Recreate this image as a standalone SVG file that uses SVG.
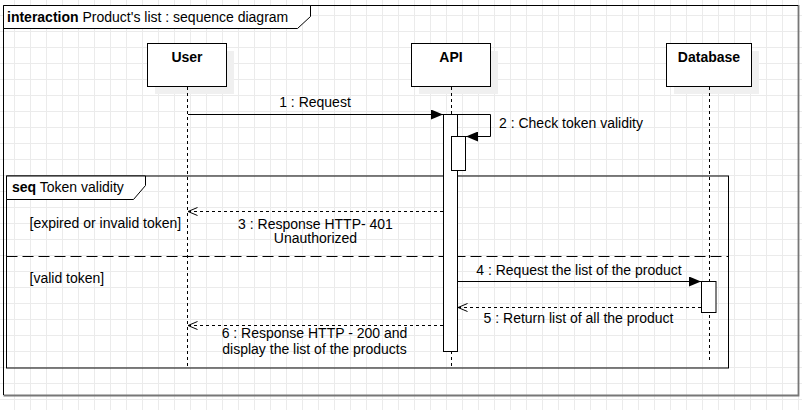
<svg xmlns="http://www.w3.org/2000/svg" width="802" height="410" viewBox="0 0 802 410">
<style>
text{font-family:"Liberation Sans",Arial,sans-serif;font-size:14px;fill:#000}
.b{font-weight:bold}
.m{text-anchor:middle}
.box{fill:#fff;stroke:#000;stroke-width:1}
.shadow{fill:#f0f0f0}
.life{stroke:#000;stroke-width:1;stroke-dasharray:3 3;fill:none}
.msg{stroke:#000;stroke-width:1;fill:none}
.ret{stroke:#000;stroke-width:1;stroke-dasharray:3 3;fill:none}
.act{fill:#fff;stroke:#000;stroke-width:1}
.frame{fill:none;stroke:#000;stroke-width:1}
.tab{fill:#fff;stroke:#000;stroke-width:1}
</style>
<defs>
<pattern id="grid" width="16" height="16" patternUnits="userSpaceOnUse" x="14" y="15">
<path d="M0.5,0 V16 M0,0.5 H16" stroke="#ebebeb" stroke-width="1" fill="none"/>
</pattern>
<marker id="fill" viewBox="0 0 12 10" refX="12" refY="5" markerWidth="12" markerHeight="10" markerUnits="userSpaceOnUse" orient="auto">
<path d="M0,0 L12,5 L0,10 Z" fill="#000"/>
</marker>
<marker id="open" viewBox="0 0 10 10" refX="9.5" refY="5" markerWidth="10" markerHeight="10" markerUnits="userSpaceOnUse" orient="auto">
<path d="M0,1 L9.5,5 L0,9" fill="none" stroke="#000" stroke-width="1"/>
</marker>
</defs>
<rect width="802" height="410" fill="#fff"/>
<rect width="802" height="410" fill="url(#grid)"/>

<g id="interaction-frame">
<path d="M798.5,5 V395.5 H3.5" fill="none" stroke="#777" stroke-width="1.8"/>
<path d="M3.5,395 V5.5 H798" class="frame"/>
<path d="M3.5,5.5 H310.5 V16.5 L297.5,28.5 H3.5 Z" class="tab"/>
<text x="7" y="21.5"><tspan class="b">interaction</tspan> Product's list : sequence diagram</text>
</g>

<g id="seq-frame">
<rect x="6.5" y="176" width="722" height="192" class="frame"/>
<path d="M6.5,176 H145.5 V185.5 L133.5,199.5 H6.5 Z" class="tab"/>
<text x="12" y="191.5"><tspan class="b">seq</tspan>  Token validity</text>
<path d="M6.5,256.5 H728.5" stroke="#000" stroke-width="1" stroke-dasharray="11 5" fill="none"/>
<text x="29.5" y="228">[expired or invalid token]</text>
<text x="29.5" y="283">[valid token]</text>
</g>

<g id="user">
<rect x="155" y="51" width="79" height="43" class="shadow"/>
<rect x="147.5" y="43.5" width="79" height="43" class="box"/>
<text x="187" y="62" class="b m">User</text>
<path d="M187.5,87 V367" class="life"/>
</g>

<g id="api">
<rect x="419" y="51" width="79" height="43" class="shadow"/>
<rect x="411.5" y="43.5" width="79" height="43" class="box"/>
<text x="451" y="62" class="b m">API</text>
<path d="M451.5,87 V367" class="life"/>
<rect x="443.5" y="114.5" width="14" height="237" class="act"/>
<rect x="451.5" y="136.5" width="14" height="34" class="act"/>
</g>

<g id="database">
<rect x="674" y="51" width="85" height="43" class="shadow"/>
<rect x="666.5" y="43.5" width="85" height="43" class="box"/>
<text x="709" y="62" class="b m">Database</text>
<path d="M709.5,87 V361" class="life"/>
<rect x="701.5" y="281.5" width="14.5" height="31" class="act"/>
</g>

<g id="connectors">
<path d="M188,114.5 H443" class="msg" marker-end="url(#fill)"/>
<text x="315" y="106.5" class="m">1 : Request</text>
<path d="M457.5,114.5 H490.5 V136.5 H466" class="msg" marker-end="url(#fill)"/>
<text x="499" y="127.5">2 : Check token validity</text>
<path d="M443,211.5 H188" class="ret" marker-end="url(#open)"/>
<text x="315.5" y="228.5" class="m">3 : Response HTTP- 401</text>
<text x="315.5" y="243" class="m">Unauthorized</text>
<path d="M458,281.5 H701" class="msg" marker-end="url(#fill)"/>
<text x="579" y="275" class="m">4 : Request the list of the product</text>
<path d="M701,307.5 H458" class="ret" marker-end="url(#open)"/>
<text x="578.5" y="322.5" class="m">5 : Return list of all the product</text>
<path d="M443,325.5 H188" class="ret" marker-end="url(#open)"/>
<text x="314.5" y="338" class="m">6 : Response HTTP - 200 and</text>
<text x="314.5" y="354" class="m">display the list of the products</text>
</g>
</svg>
